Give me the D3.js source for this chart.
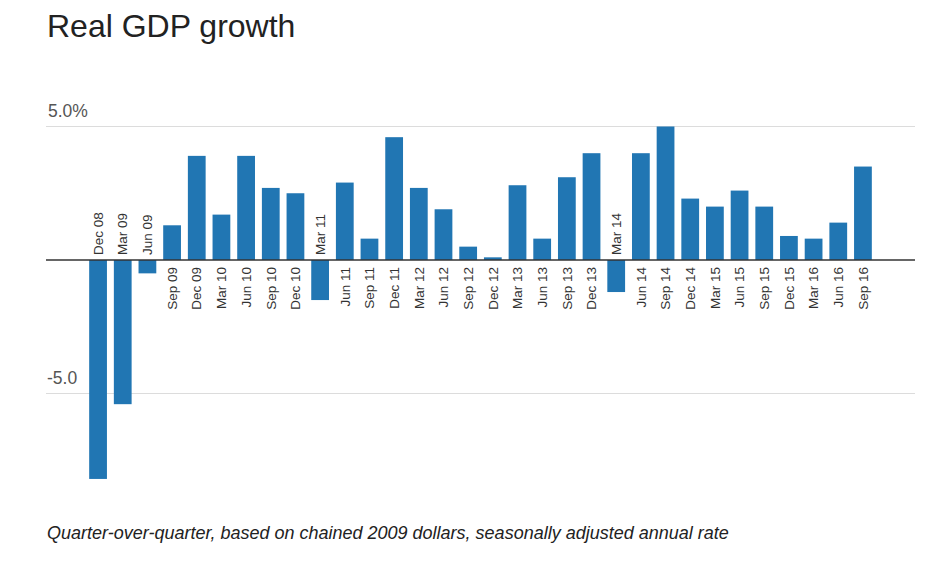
<!DOCTYPE html>
<html>
<head>
<meta charset="utf-8">
<script src="https://cdn.jsdelivr.net/npm/d3@7"></script>
<style>
  body { margin: 0; background: #fff; }
  svg { font-family: "Liberation Sans", Arial, sans-serif; }
</style>
</head>
<body>
<script>
// Quarter labels and growth values (annualized %)
const quarters = [
  "Dec 08", "Mar 09", "Jun 09", "Sep 09", "Dec 09", "Mar 10", "Jun 10", "Sep 10",
  "Dec 10", "Mar 11", "Jun 11", "Sep 11", "Dec 11", "Mar 12", "Jun 12", "Sep 12",
  "Dec 12", "Mar 13", "Jun 13", "Sep 13", "Dec 13", "Mar 14", "Jun 14", "Sep 14",
  "Dec 14", "Mar 15", "Jun 15", "Sep 15", "Dec 15", "Mar 16", "Jun 16", "Sep 16"
];
const growth = [
  -8.2, -5.4, -0.5, 1.3, 3.9, 1.7, 3.9, 2.7,
  2.5, -1.5, 2.9, 0.8, 4.6, 2.7, 1.9, 0.5,
  0.1, 2.8, 0.8, 3.1, 4.0, -1.2, 4.0, 5.0,
  2.3, 2.0, 2.6, 2.0, 0.9, 0.8, 1.4, 3.5
];
const tickValues = [5, -5];
const tickLabels = ["5.0%", "-5.0"];

const data = quarters.map((q, i) => ({ q: q, v: growth[i] }));

const W = 938, H = 568;

const svg = d3.select("body")
  .append("svg")
  .attr("width", W)
  .attr("height", H);

// Title
svg.append("text")
  .attr("x", 47)
  .attr("y", 37)
  .text("Real GDP growth")
  .style("font-size", "32px")
  .style("fill", "#222");

// Scales
const xScale = d3.scaleBand()
  .domain(quarters)
  .range([46, 915])
  .paddingInner(0.28)
  .paddingOuter(1.75);

const yScale = d3.scaleLinear()
  .domain([-5, 5])
  .range([393.5, 126.5]);

// Gridlines + tick labels
svg.selectAll(".grid")
  .data(tickValues)
  .enter()
  .append("line")
  .attr("class", "grid")
  .attr("x1", 46)
  .attr("x2", 915)
  .attr("y1", (d) => yScale(d))
  .attr("y2", (d) => yScale(d))
  .style("stroke", "#dcdcdc")
  .style("stroke-width", 1);

svg.selectAll(".tick-label")
  .data(tickValues)
  .enter()
  .append("text")
  .attr("class", "tick-label")
  .attr("x", (d, i) => (i === 0 ? 48 : 47))
  .attr("y", (d) => yScale(d) - 10)
  .text((d, i) => tickLabels[i])
  .style("font-size", "17.5px")
  .style("fill", "#555");

// Bars
svg.selectAll(".bar")
  .data(data)
  .enter()
  .append("rect")
  .attr("class", "bar")
  .attr("x", (d) => xScale(d.q))
  .attr("y", (d) => yScale(Math.max(0, d.v)))
  .attr("width", xScale.bandwidth())
  .attr("height", (d) => Math.abs(yScale(d.v) - yScale(0)))
  .style("fill", "#2176b3");

// Zero line
svg.append("line")
  .attr("x1", 46)
  .attr("x2", 915)
  .attr("y1", yScale(0))
  .attr("y2", yScale(0))
  .style("stroke", "#333")
  .style("stroke-width", 1.6);

// Quarter labels: below the line for positive bars, above for negative
svg.selectAll(".q-label")
  .data(data)
  .enter()
  .append("text")
  .attr("class", "q-label")
  .attr("transform", (d) => {
    const cx = xScale(d.q) + xScale.bandwidth() / 2;
    const y = d.v < 0 ? yScale(0) - 5 : yScale(0) + 7;
    return `translate(${cx},${y}) rotate(-90)`;
  })
  .attr("dy", "0.35em")
  .attr("text-anchor", (d) => (d.v < 0 ? "start" : "end"))
  .text((d) => d.q)
  .style("font-size", "13.5px")
  .style("fill", "#333");

// Footnote
svg.append("text")
  .attr("x", 47)
  .attr("y", 539)
  .text("Quarter-over-quarter, based on chained 2009 dollars, seasonally adjusted annual rate")
  .style("font-size", "18px")
  .style("font-style", "italic")
  .style("fill", "#222");
</script>
</body>
</html>
